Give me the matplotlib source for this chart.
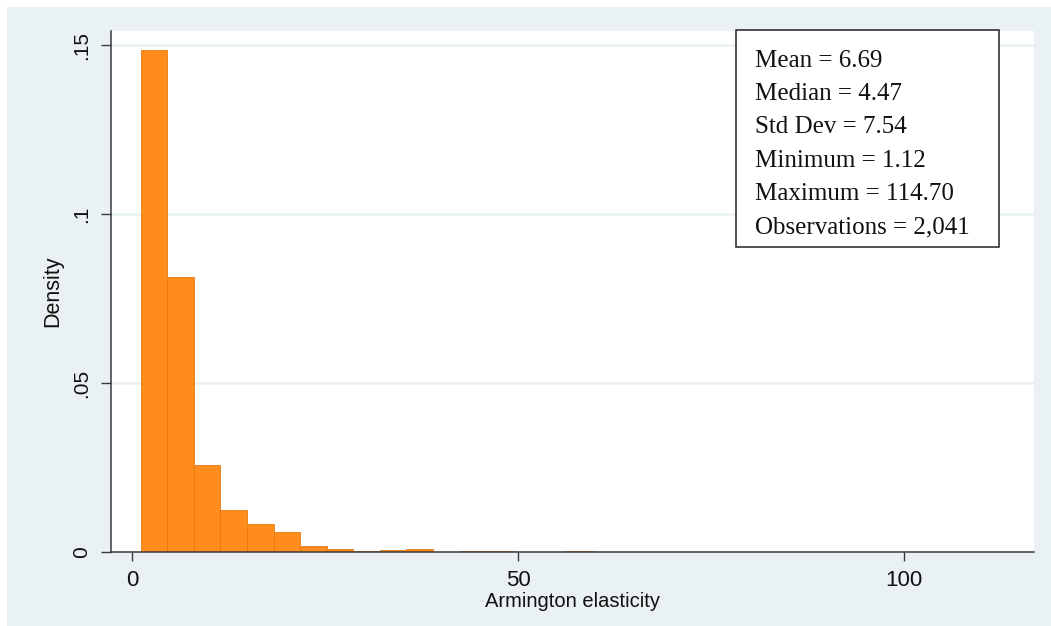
import numpy as np
import matplotlib
matplotlib.use('agg')
from matplotlib import pyplot as plt
from matplotlib.patches import Rectangle

# histogram data (Stata style, 33 bins)
n_obs = 2041
x_min = 1.12
x_max = 114.70
n_bins = 33
counts = [1044, 571, 182, 88, 59, 42, 13, 7, 3, 5, 7, 0, 3, 3, 1, 0, 2,
          1, 0, 1, 0, 0, 0, 0, 1, 1, 1, 0, 0, 0, 0, 0, 1]

y_ticks = [0, 0.05, 0.1, 0.15]
y_tick_labels = ['0', '.05', '.1', '.15']
x_ticks = [0, 50, 100]
x_tick_labels = ['0', '50', '100']

stats_lines = ['Mean = 6.69', 'Median = 4.47', 'Std Dev = 7.54',
               'Minimum = 1.12', 'Maximum = 114.70', 'Observations = 2,041']

bar_color = '#FF8C1C'
edge_color = '#E57C12'
region_color = '#EAF1F3'
axis_color = '#3a3a3a'

W, H = 1051, 626
fig = plt.figure(figsize=(W / 100, H / 100), dpi=100, facecolor='white')

# graph region (light bluish gray with a thin white border top/left)
fig.patches.append(Rectangle((7 / W, 0), 1 - 7 / W, 1 - 7 / H, transform=fig.transFigure,
                             facecolor=region_color, edgecolor='none', zorder=-10))

ax = fig.add_axes([111 / W, 1 - 552.3 / H, (1034 - 111) / W, (552.3 - 31) / H])
ax.set_facecolor('white')

width = (x_max - x_min) / n_bins
lefts = x_min + width * np.arange(n_bins)
density = np.array(counts) / (n_obs * width)
mask = density > 0
ax.bar(lefts[mask], density[mask], width=width, align='edge',
       color=bar_color, edgecolor=edge_color, linewidth=0.6, zorder=3)

ax.set_xlim(-2.72, 116.8)
ax.set_ylim(0, 0.15414)

ax.set_axisbelow(True)
ax.yaxis.grid(True, color=region_color, linewidth=1.8)
ax.xaxis.grid(False)

for s in ['top', 'right']:
    ax.spines[s].set_visible(False)
for s in ['left', 'bottom']:
    ax.spines[s].set_color(axis_color)
    ax.spines[s].set_linewidth(1.1)
    ax.spines[s].set_zorder(4)

ax.set_yticks(y_ticks)
ax.set_yticklabels(y_tick_labels, rotation=90, va='center', fontsize=15,
                   family='Liberation Sans', color='#111111')
ax.set_xticks(x_ticks)
ax.set_xticklabels(x_tick_labels, fontsize=16, family='Liberation Sans', color='#111111')
ax.tick_params(axis='y', length=7.5, width=1.0, color=axis_color, pad=6.5)
ax.tick_params(axis='x', length=6.5, width=1.0, color=axis_color, pad=6)

ax.set_ylabel('Density', fontsize=15.5, family='Liberation Sans', color='#111111', labelpad=7)
ax.set_xlabel('Armington elasticity', fontsize=14.5, family='Liberation Sans',
              color='#111111', labelpad=1)

# summary statistics box
fig.patches.append(Rectangle((735.7 / W, 1 - 247 / H), (999 - 735.7) / W, (247 - 30) / H,
                             transform=fig.transFigure, facecolor='white',
                             edgecolor='#222222', linewidth=1.1, zorder=5))
for i, line in enumerate(stats_lines):
    fig.text(755 / W, 1 - (66.7 + 33.3 * i) / H, line, fontsize=18,
             family='Liberation Serif', color='#111111', va='baseline', ha='left', zorder=6)

fig.savefig('out.png', dpi=100, facecolor='white')
